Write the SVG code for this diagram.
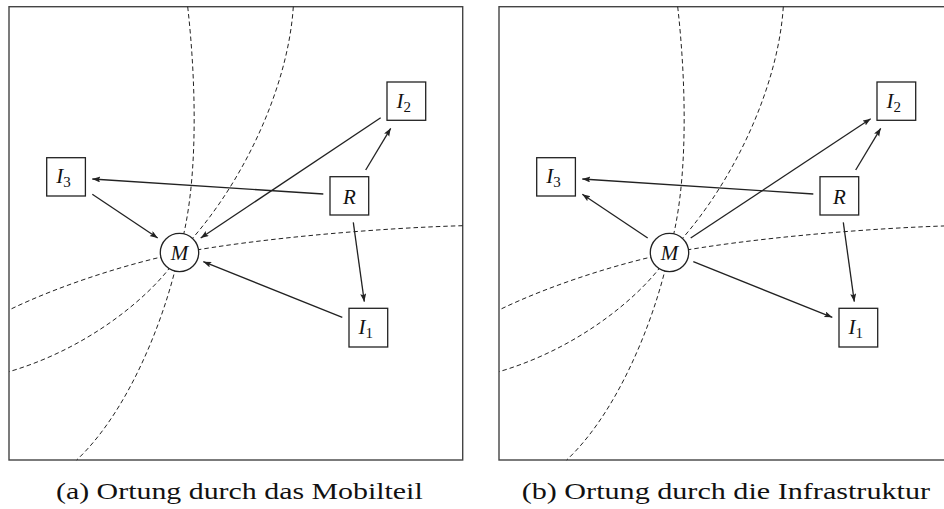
<svg xmlns="http://www.w3.org/2000/svg" width="944" height="509" viewBox="0 0 944 509">
<style>
.frame{fill:none;stroke:#444;stroke-width:1.4}
.hyp{fill:none;stroke:#222;stroke-width:1;stroke-dasharray:4.5 3}
.box{fill:#fff;stroke:#222;stroke-width:1.3}
.edge{fill:none;stroke:#222;stroke-width:1.3;marker-end:url(#ah)}
.lbl{font-family:"Liberation Serif","Times New Roman",serif;font-style:italic;font-size:21px;fill:#111}
.sub{font-style:normal;font-size:15px}
.cap{font-family:"Liberation Serif","Times New Roman",serif;font-size:24px;fill:#111}
</style>
<defs>
<marker id="ah" markerUnits="userSpaceOnUse" markerWidth="10" markerHeight="8" refX="8" refY="3" orient="auto">
<path d="M0,0 L8,3 L0,6 L1.5,3 z" fill="#222"/>
</marker>
</defs>
<rect width="944" height="509" fill="#fff"/>

<!-- Panel (a) -->
<g id="panel-a">
<rect class="frame" x="9" y="6.7" width="453.7" height="453.3"/>
<g id="hyperbolas-a">
<path class="hyp" d="M187.7,6.7 C197,90 198,190 179,252 C170,300 135,405 76.7,460"/>
<path class="hyp" d="M293.3,6.7 C288,90 240,190 180,252 C165,282 100,345 9,371.7"/>
<path class="hyp" d="M462.7,225.7 C380,228 260,238 179.5,253 C130,263 60,285 9,310"/>
</g>
<g id="connectors-a">
<path class="edge" d="M380.7,117.7 L200.7,238"/>
<path class="edge" d="M365.7,170 L390.7,128.3"/>
<path class="edge" d="M323.3,194 L92.3,179"/>
<path class="edge" d="M92.3,194.3 L157.7,238"/>
<path class="edge" d="M353.3,222.3 L364.3,301.7"/>
<path class="edge" d="M342.3,317.3 L203.3,261.7"/>
</g>
<g id="a-I2"><rect class="box" x="387" y="82" width="38.7" height="38.3"/><text class="lbl" x="396.5" y="107.5">I<tspan class="sub" dy="4">2</tspan></text></g>
<g id="a-I3"><rect class="box" x="46.7" y="157.7" width="38.7" height="38.3"/><text class="lbl" x="56.2" y="183.2">I<tspan class="sub" dy="4">3</tspan></text></g>
<g id="a-R"><rect class="box" x="330" y="176.7" width="38.7" height="38.3"/><text class="lbl" x="349.3" y="203.5" text-anchor="middle">R</text></g>
<g id="a-I1"><rect class="box" x="349" y="308.3" width="38.7" height="38.7"/><text class="lbl" x="358.5" y="334">I<tspan class="sub" dy="4">1</tspan></text></g>
<g id="a-M"><circle class="box" cx="179.5" cy="252.5" r="19.2"/><text class="lbl" x="179.5" y="259.8" text-anchor="middle">M</text></g>
</g>

<!-- Panel (b) -->
<g id="panel-b">
<rect class="frame" x="499" y="6.7" width="453.7" height="453.3"/>
<g id="hyperbolas-b">
<path class="hyp" d="M677.7,6.7 C687,90 688,190 669,252 C660,300 625,405 566.7,460"/>
<path class="hyp" d="M783.3,6.7 C778,90 730,190 670,252 C655,282 590,345 499,371.7"/>
<path class="hyp" d="M952.7,225.7 C870,228 750,238 669.5,253 C620,263 550,285 499,310"/>
</g>
<g id="connectors-b">
<path class="edge" d="M690.7,238 L870.7,118.7"/>
<path class="edge" d="M855.7,170 L880.7,128.3"/>
<path class="edge" d="M813.3,194 L582.3,179"/>
<path class="edge" d="M647.7,238 L582.3,194.3"/>
<path class="edge" d="M843.3,222.3 L854.3,301.7"/>
<path class="edge" d="M693.3,261.7 L832.3,317.3"/>
</g>
<g id="b-I2"><rect class="box" x="877" y="82" width="38.7" height="38.3"/><text class="lbl" x="886.5" y="107.5">I<tspan class="sub" dy="4">2</tspan></text></g>
<g id="b-I3"><rect class="box" x="536.7" y="157.7" width="38.7" height="38.3"/><text class="lbl" x="546.2" y="183.2">I<tspan class="sub" dy="4">3</tspan></text></g>
<g id="b-R"><rect class="box" x="820" y="176.7" width="38.7" height="38.3"/><text class="lbl" x="839.3" y="203.5" text-anchor="middle">R</text></g>
<g id="b-I1"><rect class="box" x="839" y="308.3" width="38.7" height="38.7"/><text class="lbl" x="848.5" y="334">I<tspan class="sub" dy="4">1</tspan></text></g>
<g id="b-M"><circle class="box" cx="669.5" cy="252.5" r="19.2"/><text class="lbl" x="669.5" y="259.8" text-anchor="middle">M</text></g>
</g>

<text class="cap" x="56" y="499" textLength="366.7" lengthAdjust="spacingAndGlyphs">(a) Ortung durch das Mobilteil</text>
<text class="cap" x="521.7" y="499" textLength="408.3" lengthAdjust="spacingAndGlyphs">(b) Ortung durch die Infrastruktur</text>
</svg>
